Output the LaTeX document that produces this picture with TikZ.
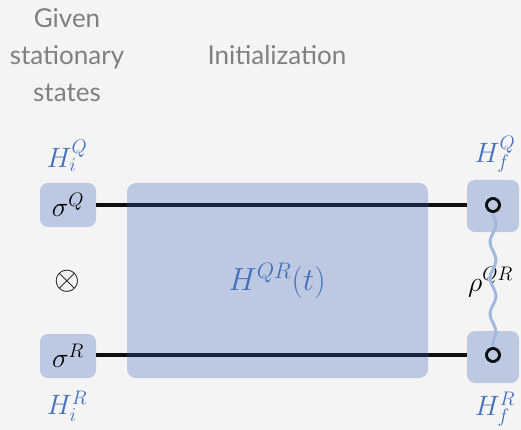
\RequirePackage{fix-cm}
\documentclass[tikz,border=0pt]{standalone}
\usepackage{fontspec}
\setmainfont{Lato}
\usetikzlibrary{decorations.pathmorphing}
\definecolor{bgcol}{HTML}{F4F4F4}
\definecolor{boxcol}{HTML}{BDC9E2}
\definecolor{headcol}{HTML}{808080}
\definecolor{labcol}{HTML}{4570BE}
\definecolor{wirecol}{HTML}{0E0E10}
\definecolor{wireincol}{HTML}{1A2540}
\definecolor{entcol}{HTML}{A3B8E0}
\begin{document}
\begin{tikzpicture}[x=1pt,y=-1pt,
  header/.style={text=headcol,font=\fontsize{26}{37}\selectfont,align=center},
  statebox/.style={fill=boxcol,rounded corners=8pt,minimum width=56pt,minimum height=44pt,inner sep=0pt},
  outbox/.style={fill=boxcol,rounded corners=8pt,minimum width=52pt,minimum height=52pt,inner sep=0pt},
  opbox/.style={fill=boxcol,rounded corners=9pt,minimum width=301pt,minimum height=195pt,inner sep=0pt},
  hlabel/.style={text=labcol,font=\fontsize{28}{30}\selectfont,inner sep=0pt},
  mathlab/.style={font=\fontsize{28}{30}\selectfont,inner sep=0pt},
  wire/.style={draw=wirecol,line width=3.5pt},
  wirein/.style={draw=wireincol,line width=3.5pt},
  meas/.style={circle,draw=wirecol,line width=2.6pt,minimum size=13pt,inner sep=0pt},
  ent/.style={draw=entcol,line width=3pt,decorate,decoration={snake,segment length=36pt,amplitude=3pt}}]
\fill[bgcol] (0,0) rectangle (521,430);
\useasboundingbox (0,0) rectangle (521,430);

% column headers
\node[header] (given) at (67,55) {Given\\stationary\\states};
\node[header] (init) at (277,55) {Initialization};

% input states
\node[statebox,mathlab] (sq) at (68,205) {$\sigma^Q$};
\node[statebox,mathlab] (sr) at (68,356) {$\sigma^R$};
\node[mathlab,font=\fontsize{33}{35}\selectfont] (tensor) at (67,281) {$\otimes$};
\node[hlabel] (hiq) at (67,156) {$H_i^Q$};
\node[hlabel] (hir) at (67,406) {$H_i^R$};

% output measurements
\node[outbox] (oq) at (493,206) {};
\node[outbox] (or) at (493,357) {};
\node[hlabel] (hfq) at (495,154) {$H_f^Q$};
\node[hlabel] (hfr) at (495,409) {$H_f^R$};

% wires
\coordinate (wq) at (467,205);
\coordinate (wr) at (467,355);
\draw[wire] (sq.east) -- (wq);
\draw[wire] (sr.east |- wr) -- (wr);

% interaction Hamiltonian, with the wires running through it
\node[opbox] (h) at (277.5,280.5) {};
\draw[wirein] (h.west |- wq) -- (h.east |- wq);
\draw[wirein] (h.west |- wr) -- (h.east |- wr);
\node[hlabel,font=\fontsize{32}{34}\selectfont] (hlab) at (277,281) {$H^{QR}(t)$};

% final correlated state
\node[mathlab,anchor=west] (rho) at (468,282) {$\rho^{QR}$};
\node[meas] (mq) at (493,205) {};
\node[meas] (mr) at (493,355) {};
\draw[ent] (mq.south) -- (mr.north);
\node[meas] at (mq) {};
\node[meas] at (mr) {};
\end{tikzpicture}
\end{document}
